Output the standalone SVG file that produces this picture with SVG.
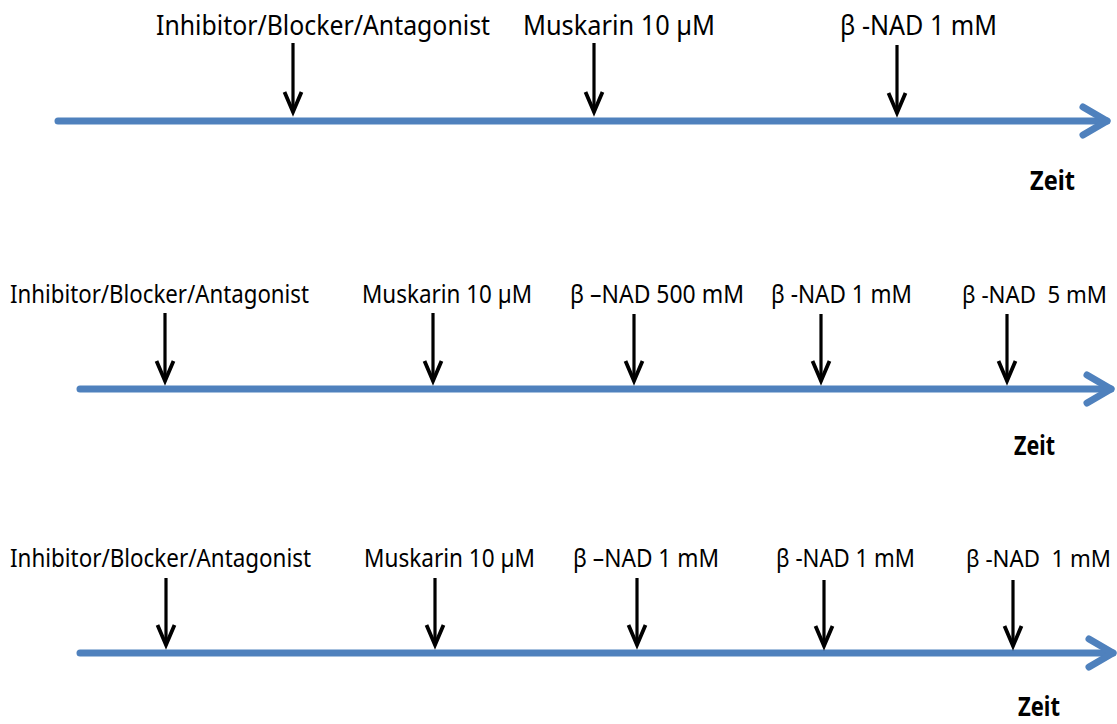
<svg xmlns="http://www.w3.org/2000/svg" width="1117" height="724" viewBox="0 0 1117 724">
<style>
.lbl{font-family:"Noto Sans","Open Sans","Liberation Sans",sans-serif;fill:#000;}
.l1{font-size:28px;}
.l2{font-size:26px;}
.l3{font-size:24px;}
.l4{font-size:23px;}
.zeit{font-family:"Noto Sans","Open Sans","Liberation Sans",sans-serif;font-weight:bold;font-size:26px;fill:#000;}
.axis{stroke:#4F81BD;stroke-width:7;stroke-linecap:round;fill:none;}
.tick{stroke:#000;stroke-width:3.2;fill:none;}
</style>
<defs>
<marker id="blk" markerUnits="userSpaceOnUse" viewBox="-25 -12 30 24" refX="0" refY="0" markerWidth="30" markerHeight="24" orient="auto" overflow="visible">
<path d="M-20,-8.5 L0,0 L-20,8.5" fill="none" stroke="#000" stroke-width="3.8" stroke-linejoin="miter"/>
</marker>
<marker id="blu" markerUnits="userSpaceOnUse" viewBox="-30 -18 36 36" refX="0" refY="0" markerWidth="36" markerHeight="36" orient="auto" overflow="visible">
<path d="M-24,-14 L0,0 L-24,14" fill="none" stroke="#4F81BD" stroke-width="7" stroke-linecap="round" stroke-linejoin="round"/>
</marker>
</defs>
<g id="connectors">
<line class="axis" x1="58" y1="121" x2="1107" y2="121" marker-end="url(#blu)"/>
<line class="axis" x1="80" y1="389" x2="1111" y2="389" marker-end="url(#blu)"/>
<line class="axis" x1="80" y1="653" x2="1113" y2="653" marker-end="url(#blu)"/>
<line class="tick" x1="293" y1="43" x2="293" y2="112" marker-end="url(#blk)"/>
<line class="tick" x1="594" y1="43" x2="594" y2="112" marker-end="url(#blk)"/>
<line class="tick" x1="897" y1="45" x2="897" y2="113" marker-end="url(#blk)"/>
<line class="tick" x1="165" y1="313" x2="165" y2="381" marker-end="url(#blk)"/>
<line class="tick" x1="433" y1="313" x2="433" y2="381" marker-end="url(#blk)"/>
<line class="tick" x1="634" y1="314" x2="634" y2="381" marker-end="url(#blk)"/>
<line class="tick" x1="821" y1="314" x2="821" y2="381" marker-end="url(#blk)"/>
<line class="tick" x1="1007" y1="314" x2="1007" y2="381" marker-end="url(#blk)"/>
<line class="tick" x1="166" y1="578" x2="166" y2="645" marker-end="url(#blk)"/>
<line class="tick" x1="435" y1="578" x2="435" y2="645" marker-end="url(#blk)"/>
<line class="tick" x1="637" y1="578" x2="637" y2="645" marker-end="url(#blk)"/>
<line class="tick" x1="824" y1="580" x2="824" y2="646" marker-end="url(#blk)"/>
<line class="tick" x1="1013" y1="580" x2="1013" y2="646" marker-end="url(#blk)"/>
</g>
<g id="row1">
<text id="r1-inh" class="lbl l1" x="156" y="35" textLength="334" lengthAdjust="spacingAndGlyphs">Inhibitor/Blocker/Antagonist</text>
<text id="r1-mus" class="lbl l1" x="523" y="35" textLength="192" lengthAdjust="spacingAndGlyphs">Muskarin 10 µM</text>
<text id="r1-nad" class="lbl l1" x="840" y="35" textLength="157" lengthAdjust="spacingAndGlyphs">β -NAD 1 mM</text>
<text id="r1-zeit" class="zeit" x="1030" y="190" textLength="45" lengthAdjust="spacingAndGlyphs">Zeit</text>
</g>
<g id="row2">
<text id="r2-inh" class="lbl l2" x="10" y="303" textLength="299" lengthAdjust="spacingAndGlyphs">Inhibitor/Blocker/Antagonist</text>
<text id="r2-mus" class="lbl l2" x="362" y="303" textLength="170" lengthAdjust="spacingAndGlyphs">Muskarin 10 µM</text>
<text id="r2-nad1" class="lbl l2" x="570" y="303" textLength="174" lengthAdjust="spacingAndGlyphs">β –NAD 500 mM</text>
<text id="r2-nad2" class="lbl l2" x="771" y="303" textLength="141" lengthAdjust="spacingAndGlyphs">β -NAD 1 mM</text>
<text id="r2-nad3" class="lbl l3" x="962" y="303" textLength="145" lengthAdjust="spacingAndGlyphs" xml:space="preserve">β -NAD  5 mM</text>
<text id="r2-zeit" class="zeit" x="1014" y="455" textLength="41" lengthAdjust="spacingAndGlyphs">Zeit</text>
</g>
<g id="row3">
<text id="r3-inh" class="lbl l2" x="10" y="567" textLength="301" lengthAdjust="spacingAndGlyphs">Inhibitor/Blocker/Antagonist</text>
<text id="r3-mus" class="lbl l2" x="364" y="567" textLength="171" lengthAdjust="spacingAndGlyphs">Muskarin 10 µM</text>
<text id="r3-nad1" class="lbl l2" x="573" y="567" textLength="146" lengthAdjust="spacingAndGlyphs">β –NAD 1 mM</text>
<text id="r3-nad2" class="lbl l2" x="776" y="567" textLength="139" lengthAdjust="spacingAndGlyphs">β -NAD 1 mM</text>
<text id="r3-nad3" class="lbl l4" x="966" y="567" textLength="145" lengthAdjust="spacingAndGlyphs" xml:space="preserve">β -NAD  1 mM</text>
<text id="r3-zeit" class="zeit" x="1018" y="716" textLength="42" lengthAdjust="spacingAndGlyphs">Zeit</text>
</g>
</svg>
